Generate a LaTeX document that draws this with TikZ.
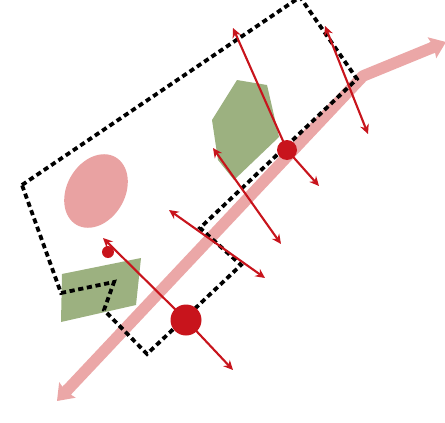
\documentclass[tikz,border=0pt]{standalone}
\usetikzlibrary{arrows.meta,calc}
\definecolor{roadpink}{HTML}{EBA7A7}
\definecolor{blobpink}{HTML}{E9A2A2}
\definecolor{greenfill}{HTML}{9CB180}
\definecolor{arrred}{HTML}{C8141C}
\tikzset{
  road/.style={line width=11.5pt, roadpink, -{Stealth[width=22pt,length=15pt,inset=2pt]}},
  roadrev/.style={line width=11.5pt, roadpink, {Stealth[width=22pt,length=15pt,inset=2pt]}-},
  boundary/.style={line width=3.8pt, black, dash pattern=on 5.2pt off 3.6pt},
  redarrow/.style={line width=2.1pt, arrred, -{Stealth[length=9.5pt,width=9pt]}},
  redboth/.style={line width=2.1pt, arrred, {Stealth[length=9.5pt,width=9pt]}-{Stealth[length=9.5pt,width=9pt]}},
  dot/.style={circle, fill=arrred, inner sep=0pt, minimum size=#1},
}
\begin{document}
\begin{tikzpicture}[x=1pt,y=-1pt]
\useasboundingbox (0,0) rectangle (445,423);
\fill[white] (0,0) rectangle (445,423);
% green areas
\fill[greenfill] (237,80) -- (267,85) -- (279,137) -- (234,180) -- (218,160) -- (212,120) -- cycle;
\fill[greenfill] (62,274) -- (141,258) -- (136,305) -- (61,322) -- cycle;
% pink blob
\fill[blobpink] (96,191) ellipse[x radius=29pt, y radius=39pt, rotate=-30];
% road
\coordinate (rs) at (57,401);
\coordinate (rb) at (363,76);
\coordinate (re) at (446,42);
\draw[line width=11.5pt, roadpink, line join=round] ($(rs)!10pt!(rb)$) -- (rb) -- ($(re)!10pt!(rb)$);
\draw[roadrev] (rs) -- ($(rs)!16pt!(rb)$);
\draw[road] ($(re)!16pt!(rb)$) -- (re);
% boundary
\draw[boundary] (22,185) -- (300,-3) -- (357,79) -- (200,228) -- (241,265) -- (147,354) -- (104,310) -- (114,282) -- (61,293) -- cycle;
% red arrows
\coordinate (c1) at (186,320);
\coordinate (c2) at (108,252);
\coordinate (c3) at (287,150);
\coordinate (a1) at (103,238);
\coordinate (a2) at (233,370);
\coordinate (a3) at (233,28);
\coordinate (a4) at (319,186);
\coordinate (b1) at (213,148);
\coordinate (b2) at (281,244);
\coordinate (d1) at (169,210);
\coordinate (d2) at (265,278);
\coordinate (e1) at (325,26);
\coordinate (e2) at (368,134);
\draw[redarrow] (c1) -- (a1);
\draw[redarrow] (c1) -- (a2);
\draw[redarrow] (c3) -- (a3);
\draw[redarrow] (c3) -- (a4);
\draw[redboth] (b1) -- (b2);
\draw[redboth] (d1) -- (d2);
\draw[redboth] (e1) -- (e2);
\node[dot=31pt] (n1) at (c1) {};
\node[dot=12pt] (n2) at (c2) {};
\node[dot=20pt] (n3) at (c3) {};
\end{tikzpicture}
\end{document}
